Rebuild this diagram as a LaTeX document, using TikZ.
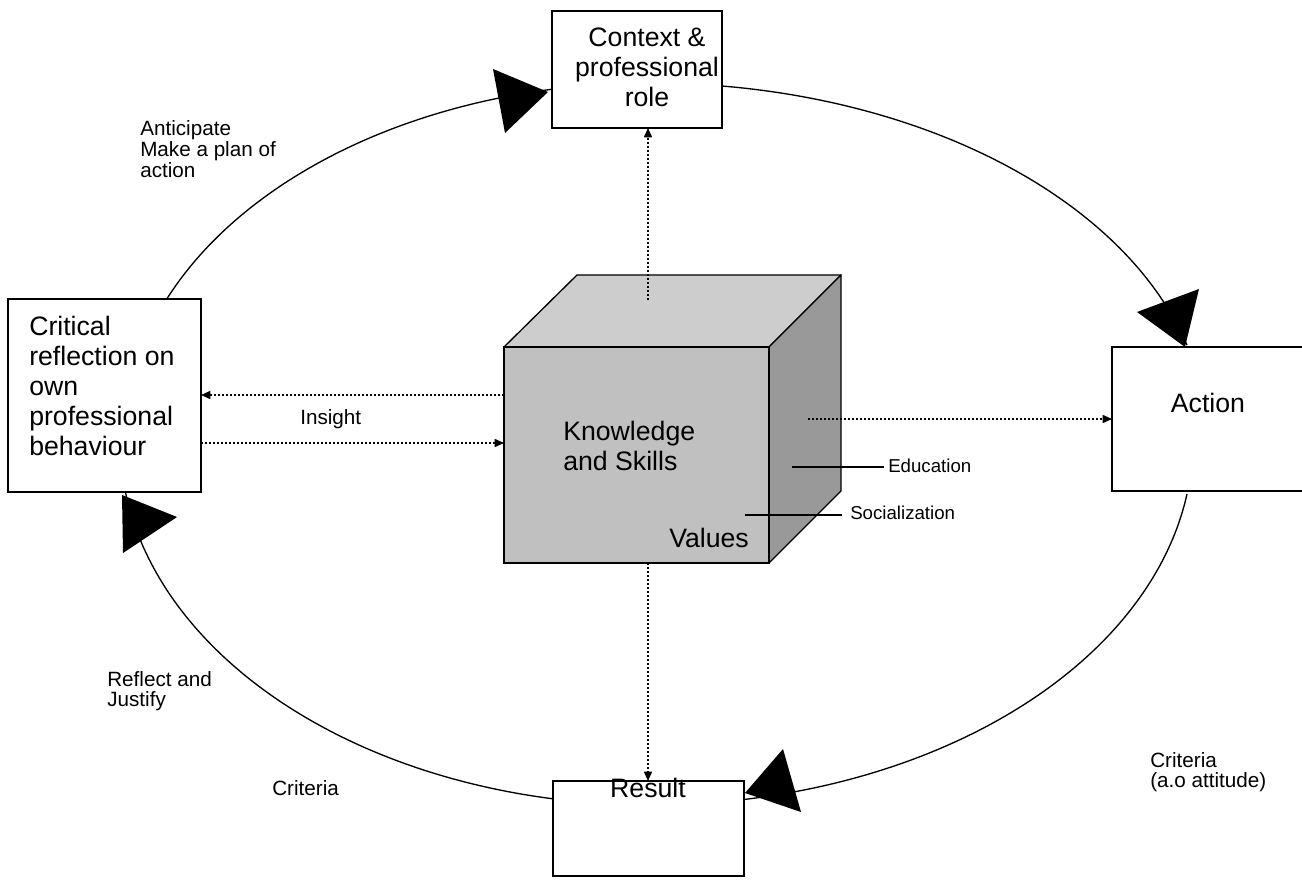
\documentclass[tikz,border=0pt]{standalone}
\usepackage{fontspec}
\setmainfont{Liberation Sans}
\usetikzlibrary{arrows.meta}
\tikzset{
  box/.style={draw, line width=1.2pt, fill=white, inner sep=0pt, outer sep=0pt},
  big/.style={font=\fontsize{20}{22.5}\selectfont, inner sep=0pt},
  lbl/.style={font=\fontsize{15.5}{15.5}\selectfont, inner sep=0pt},
  tinylbl/.style={font=\fontsize{14}{15}\selectfont, inner sep=0pt},
  dotline/.style={line width=1.2pt, dash pattern=on 1.5pt off 1.5pt},
  darr/.style={dotline, -{Triangle[length=7pt,width=6pt]}},
  arcline/.style={line width=1pt},
  headfill/.style={fill=black},
  tick/.style={line width=0.8pt}
}
\begin{document}
\begin{tikzpicture}[x=0.75pt,y=0.75pt]
\useasboundingbox (0,0) rectangle (1302,879);
\clip (0,0) rectangle (1302,879);

% outer cycle arcs
\draw[arcline] plot[domain=156.7:100.7, samples=80, variable=\t] ({650+526*cos(\t)},{439+357*sin(\t)});
\draw[arcline] plot[domain=82.6:15.4, samples=80, variable=\t] ({650+557*cos(\t)},{439+357*sin(\t)});
\draw[arcline] plot[domain=-8.5:-80, samples=80, variable=\t] ({650+543*cos(\t)},{439+365*sin(\t)});
\draw[arcline] plot[domain=-100.5:-172.1, samples=80, variable=\t] ({650+530*cos(\t)},{439+365*sin(\t)});

% boxes
\node[box, minimum width=144.75pt, minimum height=144.75pt] (crit) at (104.5,483.5) {};
\node[box, minimum width=127.5pt, minimum height=87.75pt] (ctx) at (637,809.5) {};
\node[box, minimum width=148.5pt, minimum height=108pt] (act) at (1211,460) {};
\node[box, minimum width=143.25pt, minimum height=71.25pt] (res) at (648.5,50.5) {};

% arrowheads of the cycle
\fill[headfill] (493,810) -- (548,787) -- (505,746) -- cycle;
\fill[headfill] (1199,590) -- (1137,567) -- (1185,532) -- cycle;
\fill[headfill] (783,130) -- (745,86) -- (801,67) -- cycle;
\fill[headfill] (122,384) -- (177,362) -- (123,326) -- cycle;

% cube
\fill[fill={rgb,255:red,205;green,205;blue,205}, draw=black, line width=1pt, line join=round]
  (504,532) -- (577,604) -- (841,604) -- (769,532) -- cycle;
\fill[fill={rgb,255:red,153;green,153;blue,153}, draw=black, line width=1pt, line join=round]
  (769,532) -- (841,604) -- (841,388) -- (769,316) -- cycle;
\node[draw, line width=1pt, fill={rgb,255:red,192;green,192;blue,192}, minimum width=198.75pt, minimum height=162pt, inner sep=0pt, outer sep=0pt] (kf) at (636.5,424) {};

% texts in boxes
\node[big, align=left, anchor=west] (critT) at (29,493.5) {Critical\\reflection on\\own\\professional\\behaviour};
\node[big, align=center] (ctxT) at (647,811.5) {Context \&\\professional\\role};
\node[big, anchor=base] (actT) at (1208,466) {Action};
\node[big, anchor=base] (resT) at (648,82) {Result};
\node[big, align=left, anchor=west] (kT) at (563,433.5) {Knowledge\\and Skills};
\node[big, anchor=base west] (vT) at (669,332) {Values};

% dotted arrows
\coordinate (cu) at (648,579);
\draw[darr] (cu) -- (cu |- ctx.south);
\draw[darr] (kf.west |- 0,484) -- (crit.east |- 0,484);
\draw[darr] (crit.east |- 0,436) -- (kf.west |- 0,436);
\coordinate (cr) at (808,460);
\draw[darr] (cr) -- (act.west |- cr);
\coordinate (cd) at (648,316);
\draw[darr] (cd) -- (cd |- res.north);

% education / socialization
\coordinate (ed) at (792,412);
\node[tinylbl, anchor=west] (edT) at (888,413) {Education};
\draw[tick] (ed) -- (884,0 |- ed);
\coordinate (so) at (745,364);
\node[tinylbl, anchor=west] (soT) at (850,366) {Socialization};
\draw[tick] (so) -- (842,0 |- so);

% labels
\node[lbl, align=left, anchor=west] (antT) at (140,730) {Anticipate\\Make a plan of\\action};
\node[lbl, anchor=base west] (insT) at (300,454) {Insight};
\node[lbl, align=left, anchor=west] (refT) at (107,188) {Reflect and\\Justify};
\node[lbl, anchor=base west] (cr1T) at (272,84) {Criteria};
\node[lbl, align=left, anchor=west] (cr2T) at (1150,107) {Criteria\\(a.o attitude)};
\end{tikzpicture}
\end{document}
